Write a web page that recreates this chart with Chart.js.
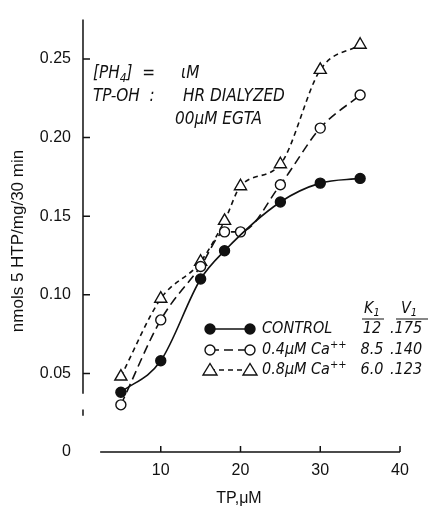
<!DOCTYPE html>
<html>
<head>
<meta charset="utf-8">
<script src="https://cdn.jsdelivr.net/npm/chart.js@4/dist/chart.umd.min.js"></script>
<style>
  html, body { margin: 0; padding: 0; background: #fff; }
</style>
</head>
<body>
<canvas id="myChart" width="431" height="513"></canvas>
<script>
// values
const controlX = [5, 10, 15, 18, 25, 30, 35];
const controlY = [0.038, 0.058, 0.110, 0.128, 0.159, 0.171, 0.174];
const ca04X = [5, 10, 15, 18, 20, 25, 30, 35];
const ca04Y = [0.030, 0.084, 0.118, 0.140, 0.140, 0.170, 0.206, 0.227];
const ca08X = [5, 10, 15, 18, 20, 25, 30, 35];
const ca08Y = [0.048, 0.0975, 0.121, 0.147, 0.169, 0.183, 0.243, 0.259];
const xTicks = [10, 20, 30, 40];
const yTicks = [0, 0.05, 0.10, 0.15, 0.20, 0.25];
const legendNames = ["CONTROL", "0.4\u03bcM Ca", "0.8\u03bcM Ca"];
const kValues = ["12", "8.5", "6.0"];
const vValues = [".175", ".140", ".123"];

const pts = (xs, ys) => xs.map((x, i) => ({ x: x, y: ys[i] }));

const NARROW = '"Liberation Sans Narrow", "DejaVu Sans Condensed", sans-serif';
const REG = '"Liberation Sans", Arial, sans-serif';

// draw a run of text pieces: [text, size, dy]
function runText(ctx, x, y, parts, style) {
  parts.forEach((p) => {
    ctx.font = style + " " + p[1] + "px " + NARROW;
    ctx.fillText(p[0], x, y + (p[2] || 0));
    x += ctx.measureText(p[0]).width;
  });
  return x;
}

function marker(ctx, kind, x, y) {
  ctx.save();
  ctx.setLineDash([]);
  ctx.lineWidth = 1.4;
  ctx.beginPath();
  if (kind === "tri") {
    ctx.moveTo(x, y - 6.5);
    ctx.lineTo(x + 7, y + 5);
    ctx.lineTo(x - 7, y + 5);
    ctx.closePath();
  } else {
    ctx.arc(x, y, 5, 0, Math.PI * 2);
  }
  ctx.fillStyle = kind === "dot" ? "#111" : "#fff";
  ctx.fill();
  ctx.stroke();
  ctx.restore();
}

const extras = {
  id: "extras",
  afterDraw(chart) {
    const ctx = chart.ctx;
    const xs = chart.scales.x;
    const ys = chart.scales.y;
    ctx.save();
    ctx.strokeStyle = "#111";
    ctx.fillStyle = "#111";
    ctx.lineWidth = 1.5;

    // axes, drawn like the original (broken near the origin)
    const ax = xs.getPixelForValue(0.25);
    ctx.beginPath();
    ctx.moveTo(ax, ys.getPixelForValue(0.275));
    ctx.lineTo(ax, ys.getPixelForValue(0.037));
    ctx.moveTo(ax, ys.getPixelForValue(0.027));
    ctx.lineTo(ax, ys.getPixelForValue(0.023));
    yTicks.forEach((v) => {
      if (v === 0) return;
      const py = ys.getPixelForValue(v);
      ctx.moveTo(ax, py);
      ctx.lineTo(ax + 7, py);
    });
    const ay = ys.getPixelForValue(0);
    ctx.moveTo(xs.getPixelForValue(2.4), ay);
    ctx.lineTo(xs.getPixelForValue(40), ay);
    xTicks.forEach((v) => {
      const px = xs.getPixelForValue(v);
      ctx.moveTo(px, ay);
      ctx.lineTo(px, ay - 6);
    });
    ctx.stroke();

    // axis titles
    ctx.textBaseline = "middle";
    ctx.textAlign = "center";
    ctx.font = "16px " + REG;
    ctx.fillText("TP,\u03bcM", 239, 499);
    ctx.save();
    ctx.translate(18, 241);
    ctx.rotate(-Math.PI / 2);
    ctx.font = "17px " + REG;
    ctx.fillText("nmols 5 HTP/mg/30 min", 0, 0);
    ctx.restore();

    // conditions note
    ctx.textAlign = "left";
    runText(ctx, 93, 74, [["[PH", 17], ["4", 12, 5], ["]  =", 17]], "italic");
    runText(ctx, 181, 74, [["\u03b9M", 17]], "italic");
    runText(ctx, 93, 97, [["TP-OH  :", 17]], "italic");
    runText(ctx, 183, 97, [["HR DIALYZED", 17]], "italic");
    runText(ctx, 175, 120, [["00\u03bcM EGTA", 17]], "italic");

    // legend table
    const rowY = [329, 350, 370];
    const kinds = ["dot", "ring", "tri"];
    const dashes = [[], [9, 5], [5, 4]];
    rowY.forEach((y, i) => {
      ctx.save();
      ctx.lineWidth = 1.6;
      ctx.setLineDash(dashes[i]);
      ctx.beginPath();
      ctx.moveTo(210, y);
      ctx.lineTo(250, y);
      ctx.stroke();
      ctx.restore();
      marker(ctx, kinds[i], 210, y);
      marker(ctx, kinds[i], 250, y);
      const parts = [[legendNames[i], 16]];
      if (i > 0) parts.push(["++", 11, -5]);
      runText(ctx, 262, y, parts, "italic");
      ctx.textAlign = "center";
      ctx.font = "italic 16px " + NARROW;
      ctx.fillText(kValues[i], 372, y);
      ctx.textAlign = "left";
      ctx.fillText(vValues[i], 390, y);
    });
    runText(ctx, 364, 309, [["K", 16], ["1", 11, 4]], "italic");
    runText(ctx, 401, 309, [["V", 16], ["1", 11, 4]], "italic");
    ctx.lineWidth = 1.2;
    ctx.beginPath();
    ctx.moveTo(362, 319);
    ctx.lineTo(384, 319);
    ctx.moveTo(396, 319);
    ctx.lineTo(428, 319);
    ctx.stroke();
    ctx.restore();
  },
};

const common = {
  borderColor: "#111",
  pointBorderColor: "#111",
  pointBorderWidth: 1.4,
  borderWidth: 1.6,
  fill: false,
  cubicInterpolationMode: "monotone",
};

const ctx = document.getElementById("myChart").getContext("2d");
const myChart = new Chart(ctx, {
  type: "scatter",
  data: {
    datasets: [
      Object.assign({}, common, {
        label: "CONTROL",
        data: pts(controlX, controlY),
        showLine: true,
        pointStyle: "circle",
        pointRadius: 5,
        pointBackgroundColor: "#111",
      }),
      Object.assign({}, common, {
        label: "0.4 Ca",
        data: pts(ca04X, ca04Y),
        showLine: true,
        borderDash: [9, 5],
        pointStyle: "circle",
        pointRadius: 5,
        pointBackgroundColor: "#fff",
      }),
      Object.assign({}, common, {
        label: "0.8 Ca",
        data: pts(ca08X, ca08Y),
        showLine: true,
        borderDash: [5, 4],
        pointStyle: "triangle",
        pointRadius: 7,
        pointBackgroundColor: "#fff",
      }),
    ],
  },
  options: {
    responsive: false,
    animation: false,
    devicePixelRatio: 1,
    layout: { padding: { top: 5, right: 31, left: 0, bottom: 0 } },
    plugins: { legend: { display: false }, tooltip: { enabled: false } },
    scales: {
      x: {
        type: "linear",
        min: 0,
        max: 40,
        grid: { display: false, drawTicks: false },
        border: { display: false },
        afterBuildTicks: (s) => { s.ticks = xTicks.map((v) => ({ value: v })); },
        afterFit: (s) => { s.height = 61; },
        ticks: {
          padding: 9,
          color: "#111",
          font: { family: REG, size: 16 },
          callback: (v) => String(v),
        },
      },
      y: {
        type: "linear",
        min: 0,
        max: 0.275,
        grid: { display: false, drawTicks: false },
        border: { display: false },
        afterBuildTicks: (s) => { s.ticks = yTicks.map((v) => ({ value: v })); },
        afterFit: (s) => { s.width = 81; },
        ticks: {
          padding: 10,
          color: "#111",
          font: { family: REG, size: 16 },
          callback: (v) => (v === 0 ? "0" : v.toFixed(2)),
        },
      },
    },
  },
  plugins: [extras],
});
</script>
</body>
</html>
